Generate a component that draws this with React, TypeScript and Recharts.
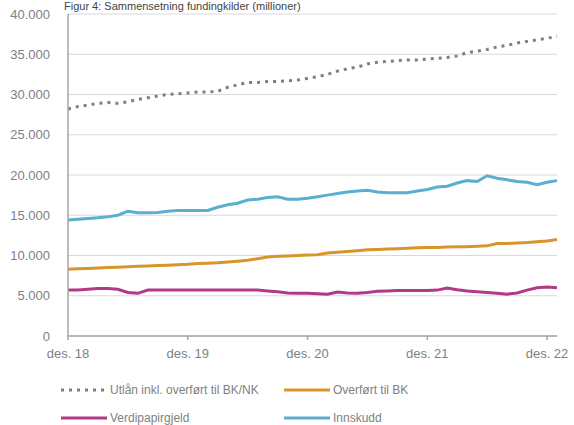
import { LineChart, Line, XAxis, YAxis, CartesianGrid } from "recharts"

// Dec 2018 – Jan 2023, monthly (millioner)
const monthNames = ["jan.", "feb.", "mar.", "apr.", "mai", "jun.", "jul.", "aug.", "sep.", "okt.", "nov.", "des."]
const months: string[] = ["des. 18"]
for (let y = 19; y <= 23; y++) {
  for (let m = 0; m < 12; m++) {
    if (months.length < 50) months.push(`${monthNames[m]} ${y}`)
  }
}

const utlan = [
  28200, 28500, 28700, 28900, 29000, 28900, 29100, 29400, 29600, 29800,
  30000, 30100, 30200, 30300, 30300, 30400, 30900, 31200, 31500, 31500,
  31600, 31600, 31700, 31800, 32000, 32200, 32500, 32900, 33200, 33400,
  33800, 34000, 34100, 34200, 34300, 34300, 34400, 34500, 34600, 34800,
  35200, 35400, 35600, 35900, 36100, 36400, 36600, 36800, 37000, 37200,
]
const overfortBk = [
  8300, 8350, 8400, 8450, 8500, 8550, 8600, 8650, 8700, 8750,
  8800, 8850, 8900, 9000, 9050, 9100, 9200, 9300, 9400, 9600,
  9800, 9900, 9950, 10000, 10050, 10100, 10300, 10400, 10500, 10600,
  10700, 10750, 10800, 10850, 10900, 10950, 11000, 11000, 11050, 11100,
  11100, 11150, 11200, 11500, 11500, 11550, 11600, 11700, 11800, 12000,
]
const verdipapirgjeld = [
  5700, 5700, 5800, 5900, 5900, 5800, 5400, 5300, 5700, 5700,
  5700, 5700, 5700, 5700, 5700, 5700, 5700, 5700, 5700, 5700,
  5600, 5500, 5350, 5300, 5300, 5250, 5200, 5450, 5350, 5300,
  5400, 5550, 5600, 5650, 5650, 5650, 5650, 5700, 5950, 5750,
  5600, 5500, 5400, 5300, 5200, 5350, 5700, 6000, 6100, 6000,
]
const innskudd = [
  14400, 14500, 14600, 14700, 14800, 15000, 15500, 15300, 15300, 15350,
  15500, 15600, 15600, 15600, 15600, 16000, 16300, 16500, 16900, 17000,
  17200, 17300, 17000, 17000, 17100, 17300, 17500, 17700, 17900, 18000,
  18100, 17900, 17800, 17800, 17800, 18000, 18200, 18500, 18600, 19000,
  19300, 19200, 19900, 19600, 19400, 19200, 19100, 18800, 19100, 19300,
]

const yTicks = [0, 5000, 10000, 15000, 20000, 25000, 30000, 35000, 40000]

const data = months.map((month, i) => ({
  month,
  utlan: utlan[i],
  overfortBk: overfortBk[i],
  verdipapirgjeld: verdipapirgjeld[i],
  innskudd: innskudd[i],
}))

const series = [
  { key: "utlan", name: "Utlån inkl. overført til BK/NK", color: "#7f7f7f", dash: "3 5" },
  { key: "overfortBk", name: "Overført til BK", color: "#d8952c", dash: undefined },
  { key: "verdipapirgjeld", name: "Verdipapirgjeld", color: "#b03a86", dash: undefined },
  { key: "innskudd", name: "Innskudd", color: "#5aafd0", dash: undefined },
]

const fmt = (v: number) => v.toLocaleString("de-DE")
const font = "'Liberation Sans', Arial, sans-serif"

export default function App() {
  return (
    <div style={{ position: "fixed", left: 0, top: 0, width: 574, height: 425, background: "#fff", overflow: "hidden", fontFamily: font }}>
      <div style={{ position: "absolute", left: 64, top: 0, fontSize: 11, lineHeight: "12px", color: "#444", whiteSpace: "nowrap" }}>
        Figur 4: Sammensetning fundingkilder (millioner)
      </div>
      <LineChart width={574} height={370} data={data} margin={{ top: 14, right: 17, left: 0, bottom: 4 }}>
        <CartesianGrid vertical={false} stroke="#d9d9d9" />
        <XAxis
          dataKey="month"
          interval={11}
          tick={{ fontSize: 13, fill: "#7f7f7f", fontFamily: font }}
          stroke="#a6a6a6"
          strokeWidth={1.5}
          tickSize={4}
          tickMargin={9}
          height={30}
        />
        <YAxis
          ticks={yTicks}
          domain={[0, 40000]}
          tickFormatter={fmt}
          tick={{ fontSize: 13, fill: "#7f7f7f", fontFamily: font }}
          tickLine={false}
          tickMargin={12}
          stroke="#a6a6a6"
          strokeWidth={1.5}
          width={68}
        />
        {series.map((s) => (
          <Line
            key={s.key}
            type="linear"
            dataKey={s.key}
            name={s.name}
            stroke={s.color}
            strokeWidth={3}
            strokeDasharray={s.dash}
            dot={false}
            isAnimationActive={false}
          />
        ))}
      </LineChart>
      <div style={{ position: "absolute", left: 60, top: 381, display: "grid", gridTemplateColumns: "223px 230px", rowGap: 10, fontSize: 12, color: "#7f7f7f" }}>
        {series.map((s) => (
          <div key={s.key} style={{ display: "flex", alignItems: "center", height: 18 }}>
            <svg width={48} height={6} style={{ marginRight: 2 }}>
              <line x1={1} y1={3} x2={47} y2={3} stroke={s.color} strokeWidth={3} strokeDasharray={s.dash} />
            </svg>
            {s.name}
          </div>
        ))}
      </div>
    </div>
  )
}
